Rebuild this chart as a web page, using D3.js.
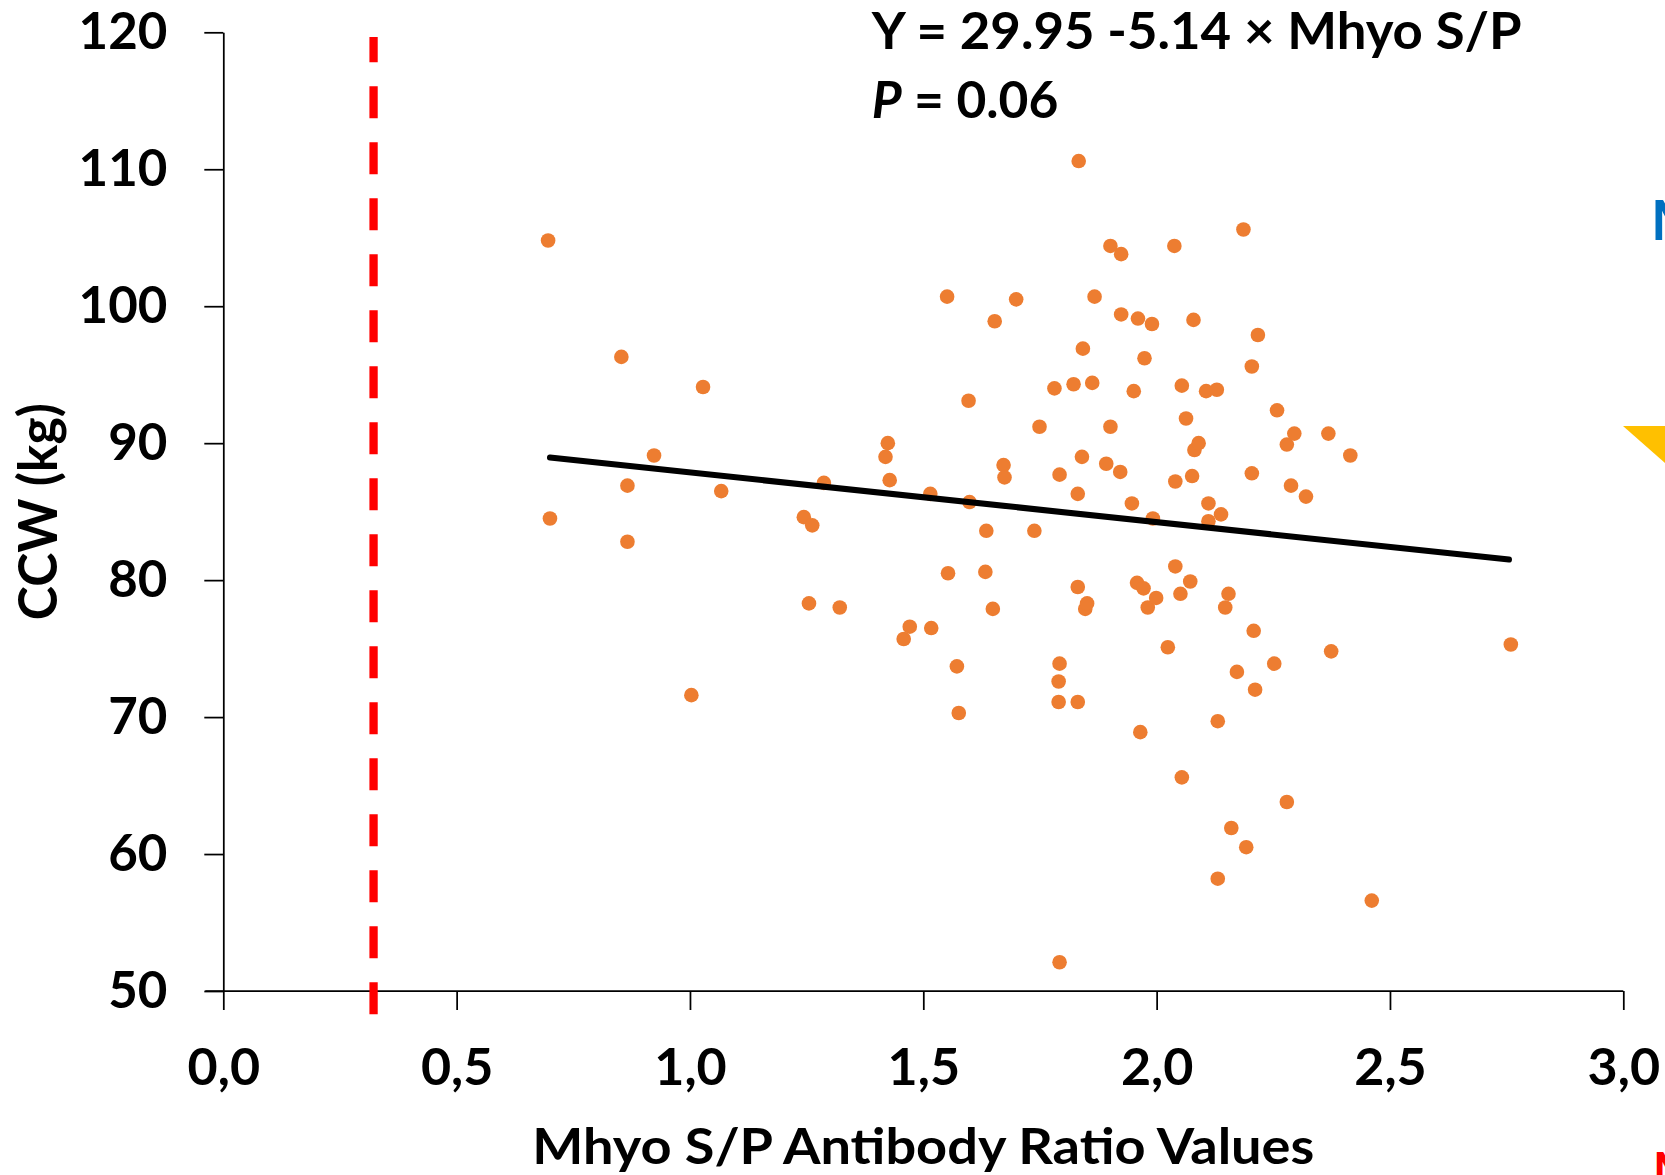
<!DOCTYPE html>
<html>
<head>
<meta charset="utf-8">
<script src="https://cdn.jsdelivr.net/npm/d3@7"></script>
<style>
body { margin: 0; background: #fff; }
svg text { font-family: Lato, "Open Sans", sans-serif; font-weight: 700; fill: #000; }
</style>
</head>
<body>
<div id="chart"></div>
<script>
var w = 1665;
var h = 1175;

// axis ticks
var xTicks = [0, 0.5, 1, 1.5, 2, 2.5, 3];
var yTicks = [50, 60, 70, 80, 90, 100, 110, 120];

// Mhyo S/P ratio (x) and carcass weight CCW in kg (y), one entry per pig
var spValues = [0.696, 0.700, 0.853, 0.866, 0.866, 0.923, 1.003, 1.028, 1.067, 1.244,
    1.262, 1.255, 1.287, 1.321, 1.424, 1.419, 1.428, 1.458, 1.471, 1.515,
    1.517, 1.551, 1.553, 1.572, 1.576, 1.597, 1.599, 1.633, 1.635, 1.649,
    1.653, 1.672, 1.674, 1.699, 1.738, 1.749, 1.781, 1.792, 1.792, 1.790,
    1.790, 1.792, 1.822, 1.831, 1.831, 1.831, 1.833, 1.840, 1.842, 1.847,
    1.851, 1.862, 1.867, 1.892, 1.901, 1.901, 1.922, 1.924, 1.924, 1.947,
    1.951, 1.958, 1.960, 1.965, 1.972, 1.974, 1.981, 1.990, 1.992, 1.999,
    2.024, 2.038, 2.040, 2.040, 2.051, 2.054, 2.054, 2.063, 2.072, 2.076,
    2.079, 2.081, 2.090, 2.106, 2.111, 2.111, 2.129, 2.131, 2.131, 2.138,
    2.147, 2.154, 2.160, 2.172, 2.186, 2.192, 2.204, 2.204, 2.208, 2.211,
    2.217, 2.252, 2.258, 2.279, 2.279, 2.288, 2.295, 2.320, 2.368, 2.374,
    2.415, 2.461, 2.759];
var ccwValues = [104.8, 84.5, 96.3, 86.9, 82.8, 89.1, 71.6, 94.1, 86.5, 84.6,
    84.0, 78.3, 87.1, 78.0, 90.0, 89.0, 87.3, 75.7, 76.6, 86.3,
    76.5, 100.7, 80.5, 73.7, 70.3, 93.1, 85.7, 80.6, 83.6, 77.9,
    98.9, 88.4, 87.5, 100.5, 83.6, 91.2, 94.0, 87.7, 73.9, 72.6,
    71.1, 52.1, 94.3, 86.3, 79.5, 71.1, 110.6, 89.0, 96.9, 77.9,
    78.3, 94.4, 100.7, 88.5, 91.2, 104.4, 87.9, 99.4, 103.8, 85.6,
    93.8, 79.8, 99.1, 68.9, 79.4, 96.2, 78.0, 98.7, 84.5, 78.7,
    75.1, 104.4, 81.0, 87.2, 79.0, 65.6, 94.2, 91.8, 79.9, 87.6,
    99.0, 89.5, 90.0, 93.8, 84.3, 85.6, 93.9, 69.7, 58.2, 84.8,
    78.0, 79.0, 61.9, 73.3, 105.6, 60.5, 87.8, 95.6, 76.3, 72.0,
    97.9, 73.9, 92.4, 89.9, 63.8, 86.9, 90.7, 86.1, 90.7, 74.8,
    89.1, 56.6, 75.3];

// fitted trend line end points
var fitX = [0.70, 2.755];
var fitY = [88.95, 81.5];

// dashed red cut-off line
var cutoffX = 0.322;
var cutoffY = [48.3, 119.66];

var equation = "Y = 29.95 -5.14 × Mhyo S/P";
var pLabel = "P";
var pValue = " = 0.06";
var xTitle = "Mhyo S/P Antibody Ratio Values";
var yTitle = "CCW (kg)";

function scatterChart() {
    var xScale = d3.scaleLinear()
        .domain([0, 3])
        .range([223.3, 1623.3]);

    var yScale = d3.scaleLinear()
        .domain([50, 120])
        .range([991, 32.3]);

    var svg = d3.select("#chart")
        .append("svg")
        .attr("width", w)
        .attr("height", h)
        .style("display", "block");

    svg.append("rect")
        .attr("width", w)
        .attr("height", h)
        .attr("fill", "#fff");

    var xAxis = d3.axisBottom(xScale)
        .tickValues(xTicks)
        .tickSizeInner(19)
        .tickSizeOuter(0)
        .tickFormat(function(d) { return d3.format(".1f")(d).replace(".", ","); });

    var yAxis = d3.axisLeft(yScale)
        .tickValues(yTicks)
        .tickSizeInner(19)
        .tickSizeOuter(0)
        .tickPadding(37);

    var gx = svg.append("g")
        .attr("transform", "translate(0," + yScale(50) + ")")
        .call(xAxis)
        .attr("font-size", null)
        .attr("font-family", null);
    // x axis line reaches under the 50 tick of the y axis
    gx.select(".domain")
        .attr("d", "M" + (xScale(0) - 18) + ",0H" + xScale(3));
    gx.selectAll("text")
        .attr("y", 94)
        .attr("dy", null)
        .style("font-size", "52px");

    var gy = svg.append("g")
        .attr("transform", "translate(" + xScale(0) + ",0)")
        .call(yAxis)
        .attr("font-size", null)
        .attr("font-family", null);
    gy.selectAll("text")
        .style("font-size", "51px");

    svg.selectAll(".domain, .tick line")
        .attr("stroke", "#000")
        .attr("stroke-width", 1.75);

    // points
    svg.append("g")
        .selectAll("circle")
        .data(spValues)
        .enter()
        .append("circle")
        .attr("cx", function(d) { return xScale(d); })
        .attr("cy", function(d, i) { return yScale(ccwValues[i]); })
        .attr("r", 7.3)
        .attr("fill", "#ED7D31");

    var line = d3.line()
        .x(function(d) { return xScale(d[0]); })
        .y(function(d) { return yScale(d[1]); });

    svg.append("path")
        .datum(fitX.map(function(d, i) { return [d, fitY[i]]; }))
        .attr("d", line)
        .attr("fill", "none")
        .attr("stroke", "#000")
        .attr("stroke-width", 6)
        .attr("stroke-linecap", "round");

    svg.append("path")
        .datum([[cutoffX, cutoffY[0]], [cutoffX, cutoffY[1]]])
        .attr("d", line)
        .attr("fill", "none")
        .attr("stroke", "#FF0000")
        .attr("stroke-width", 8.3)
        .attr("stroke-dasharray", "32,24");

    // equation and P value
    svg.append("text")
        .attr("x", 871.7)
        .attr("y", 49.3)
        .attr("textLength", 650)
        .attr("lengthAdjust", "spacingAndGlyphs")
        .style("font-size", "51px")
        .text(equation);

    var pText = svg.append("text")
        .attr("x", 871.7)
        .attr("y", 118.3)
        .attr("textLength", 186.6)
        .attr("lengthAdjust", "spacingAndGlyphs")
        .style("font-size", "51px");
    pText.append("tspan").style("font-style", "italic").text(pLabel);
    pText.append("tspan").text(pValue);

    // axis titles
    svg.append("text")
        .attr("x", (xScale(0) + xScale(3)) / 2)
        .attr("y", 1164)
        .attr("text-anchor", "middle")
        .attr("textLength", 782)
        .attr("lengthAdjust", "spacingAndGlyphs")
        .style("font-size", "50px")
        .text(xTitle);

    svg.append("text")
        .attr("transform", "translate(56.5," + (yScale(50) + yScale(120)) / 2 + ") rotate(-90)")
        .attr("text-anchor", "middle")
        .attr("textLength", 217)
        .attr("lengthAdjust", "spacingAndGlyphs")
        .style("font-size", "53px")
        .text(yTitle);

    // pieces of neighbouring panel that are cut off at the right edge
    svg.append("text")
        .attr("x", 1651)
        .attr("y", 240)
        .style("font-size", "56px")
        .style("fill", "#0070C0")
        .text("M");

    svg.append("path")
        .attr("d", "M1623,426L1665,426L1665,463Z")
        .attr("fill", "#FFC000");

    svg.append("text")
        .attr("x", 1653)
        .attr("y", 1187)
        .style("font-size", "48px")
        .style("fill", "#FF0000")
        .text("M");
}

scatterChart();
</script>
</body>
</html>
